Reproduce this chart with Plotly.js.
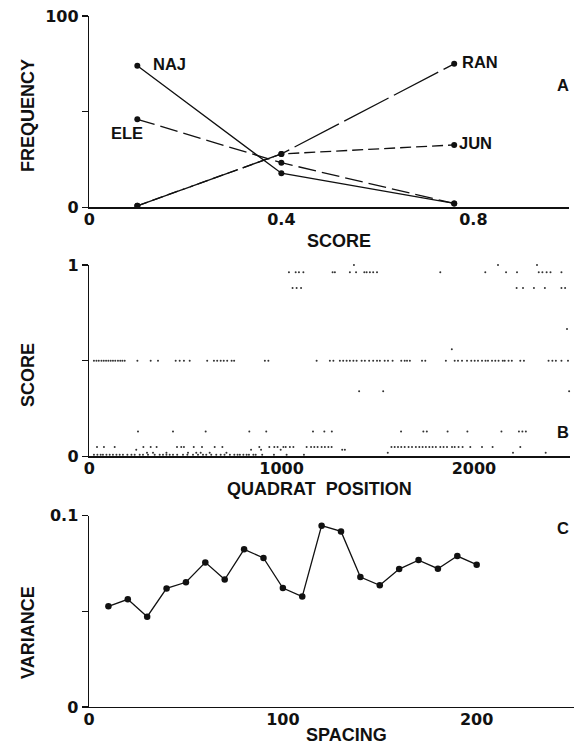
<!DOCTYPE html>
<html>
<head>
<meta charset="utf-8">
<script src="https://cdn.plot.ly/plotly-3.0.1.min.js"></script>
<style>html,body{margin:0;padding:0;background:#fff;}#chart{width:574px;height:746px;}</style>
</head>
<body>
<div id="chart"></div>
<script>
// ---- Panel A: frequency vs score ----
const scoreX = [0.1, 0.4, 0.76];
const freqNAJ = [74, 17.8, 2];
const freqELE = [46, 23.3, 2];
const freqRAN = [0.8, 27.9, 75];
const freqJUN = [0.8, 27.9, 32.6];
const seriesNames = ['NAJ', 'ELE', 'RAN', 'JUN'];

// ---- Panel B: score vs quadrat position (grouped by score level) ----
const posScore100 = [1376, 2125, 2328];
const posScore096 = [1038, 1073, 1090, 1113, 1265, 1277, 1355, 1387, 1430, 1442, 1459, 1476, 1496, 1825, 2059, 2167, 2224, 2337, 2356, 2378, 2398, 2455];
const posScore088 = [1057, 1078, 1101, 2222, 2255, 2312, 2369, 2455, 2474];
const posScore067 = [2484];
const posScore056 = [1885];
const posScore050 = [24, 37, 49, 63, 75, 87, 99, 111, 123, 135, 149, 161, 172, 184, 250, 319, 357, 449, 470, 492, 522, 613, 648, 665, 683, 699, 717, 740, 753, 913, 931, 1182, 1251, 1269, 1303, 1320, 1338, 1355, 1373, 1390, 1416, 1433, 1455, 1476, 1496, 1511, 1536, 1553, 1577, 1622, 1640, 1652, 1667, 1730, 1747, 1854, 1900, 1917, 1938, 1964, 1986, 2004, 2021, 2042, 2060, 2073, 2094, 2111, 2128, 2150, 2160, 2180, 2197, 2241, 2260, 2388, 2408, 2426, 2455, 2489];
const posScore034 = [1403, 1528, 2495];
const posScore013 = [253, 435, 605, 832, 920, 1163, 1222, 1261, 1621, 1737, 1755, 1863, 1966, 2143, 2234, 2252, 2270];
const posScore005 = [40, 76, 132, 281, 319, 350, 456, 478, 492, 543, 586, 652, 692, 884, 936, 962, 979, 1009, 1021, 1043, 1061, 1130, 1153, 1170, 1187, 1208, 1225, 1243, 1260, 1571, 1588, 1605, 1622, 1640, 1660, 1678, 1698, 1716, 1733, 1750, 1768, 1785, 1802, 1825, 1842, 1860, 1886, 1900, 1920, 1941, 1981, 2042, 2097, 2241];
const posScore0035 = [244, 841, 893, 995, 1315, 1329];
const posScore002 = [300, 331, 401, 513, 556, 579, 626, 713, 1552, 2203, 2373];
const posScore001 = [24, 42, 59, 71, 89, 106, 123, 141, 158, 175, 198, 219, 236, 262, 279, 305, 340, 366, 383, 401, 418, 435, 457, 487, 510, 539, 565, 591, 608, 634, 660, 683, 703, 731, 754, 771, 783, 801, 818, 830, 853, 865, 899, 960, 1026, 1116];
const scoreLevels = [1.0, 0.962, 0.88, 0.666, 0.56, 0.5, 0.34, 0.13, 0.05, 0.035, 0.02, 0.009];

// ---- Panel C: variance vs spacing ----
const spacing = [10, 20, 30, 40, 50, 60, 70, 80, 90, 100, 110, 120, 130, 140, 150, 160, 170, 180, 190, 200];
const variance = [0.0526, 0.0563, 0.0472, 0.0620, 0.0652, 0.0756, 0.0666, 0.0824, 0.0779, 0.0622, 0.0577, 0.0948, 0.0918, 0.0679, 0.0636, 0.0721, 0.0768, 0.0723, 0.0789, 0.0744];

// ---- Tick labels / titles ----
const xTicksA = [0, 0.4, 0.8], xTickTextA = ['0', '0.4', '0.8'];
const yTicksA = [0, 50, 100], yTickTextA = ['0', '', '100'];
const xTicksB = [0, 1000, 2000], xTickTextB = ['0', '1000', '2000'];
const yTicksB = [0, 0.5, 1], yTickTextB = ['0', '', '1'];
const xTicksC = [0, 100, 200], xTickTextC = ['0', '100', '200'];
const yTicksC = [0, 0.05, 0.1], yTickTextC = ['0', '', '0.1'];

const INK = '#111';
const W = 574, H = 746;
const px = v => v / W;
const py = v => 1 - v / H;

const lineW = 1.3;
const dashes = ['solid', '18px,6px', '50px,6px', '11px,5px'];
const freqSeries = [freqNAJ, freqELE, freqRAN, freqJUN];

const traces = [];
freqSeries.forEach((ys, i) => {
  traces.push({
    x: scoreX, y: ys, xaxis: 'x', yaxis: 'y', type: 'scatter', mode: 'lines+markers',
    name: seriesNames[i], cliponaxis: false,
    line: {color: INK, width: lineW, dash: dashes[i]},
    marker: {color: INK, size: 6}
  });
});

const bGroups = [posScore100, posScore096, posScore088, posScore067, posScore056, posScore050, posScore034, posScore013, posScore005, posScore0035, posScore002, posScore001];
const bx = [], by = [];
bGroups.forEach((g, i) => g.forEach(p => { bx.push(p); by.push(scoreLevels[i]); }));
traces.push({
  x: bx, y: by, xaxis: 'x2', yaxis: 'y2', type: 'scatter', mode: 'markers', cliponaxis: false,
  marker: {color: '#333', size: 2}
});

traces.push({
  x: spacing, y: variance, xaxis: 'x3', yaxis: 'y3', type: 'scatter', mode: 'lines+markers', cliponaxis: false,
  line: {color: INK, width: lineW},
  marker: {color: INK, size: 6.5}
});

const tickFont = {family: 'DejaVu Sans', size: 16, color: INK, weight: 'bold'};
const xCommon = {showgrid: false, zeroline: false, showline: true, linecolor: INK, linewidth: 1.5,
  ticks: '', ticklabelstandoff: -3, tickfont: tickFont, fixedrange: true, tickmode: 'array'};
const yCommon = {showgrid: false, zeroline: false, showline: true, linecolor: INK, linewidth: 1.5,
  ticks: 'outside', ticklen: 6, tickwidth: 1.3, tickcolor: INK, tickfont: tickFont, fixedrange: true, tickmode: 'array'};

const titleFont = {family: 'Liberation Sans', size: 18, color: INK, weight: 'bold'};
const labelFont = {family: 'Liberation Sans', size: 16.5, color: INK, weight: 'bold'};

const annotations = [
  // axis titles
  {text: 'FREQUENCY', xref: 'paper', yref: 'paper', x: px(28), y: py(116), textangle: -90, font: titleFont, showarrow: false, xanchor: 'center', yanchor: 'middle'},
  {text: 'SCORE', xref: 'paper', yref: 'paper', x: px(339), y: py(241), font: titleFont, showarrow: false, xanchor: 'center', yanchor: 'middle'},
  {text: 'SCORE', xref: 'paper', yref: 'paper', x: px(28), y: py(375), textangle: -90, font: titleFont, showarrow: false, xanchor: 'center', yanchor: 'middle'},
  {text: 'QUADRAT  POSITION', xref: 'paper', yref: 'paper', x: px(319), y: py(489), font: titleFont, showarrow: false, xanchor: 'center', yanchor: 'middle'},
  {text: 'VARIANCE', xref: 'paper', yref: 'paper', x: px(28), y: py(633), textangle: -90, font: titleFont, showarrow: false, xanchor: 'center', yanchor: 'middle'},
  {text: 'SPACING', xref: 'paper', yref: 'paper', x: px(346), y: py(746), font: titleFont, showarrow: false, xanchor: 'center', yanchor: 'bottom', borderpad: 0},
  // panel letters
  {text: 'A', xref: 'paper', yref: 'paper', x: px(562.5), y: py(85), font: labelFont, showarrow: false, xanchor: 'center', yanchor: 'middle'},
  {text: 'B', xref: 'paper', yref: 'paper', x: px(562.7), y: py(432), font: labelFont, showarrow: false, xanchor: 'center', yanchor: 'middle'},
  {text: 'C', xref: 'paper', yref: 'paper', x: px(563), y: py(528), font: labelFont, showarrow: false, xanchor: 'center', yanchor: 'middle'},
  // series labels
  {text: seriesNames[0], xref: 'x', yref: 'y', x: scoreX[0], y: freqNAJ[0], xanchor: 'left', yanchor: 'middle', xshift: 14, yshift: 2, font: labelFont, showarrow: false},
  {text: seriesNames[1], xref: 'x', yref: 'y', x: scoreX[0], y: freqELE[0], xanchor: 'right', yanchor: 'middle', xshift: 8, yshift: -14, font: labelFont, showarrow: false},
  {text: seriesNames[2], xref: 'x', yref: 'y', x: scoreX[2], y: freqRAN[2], xanchor: 'left', yanchor: 'middle', xshift: 6, yshift: 2, font: labelFont, showarrow: false},
  {text: seriesNames[3], xref: 'x', yref: 'y', x: scoreX[2], y: freqJUN[2], xanchor: 'left', yanchor: 'middle', xshift: 3, yshift: 1.5, font: labelFont, showarrow: false}
];

const layout = {
  width: W, height: H, margin: {l: 0, r: 0, t: 0, b: 0},
  paper_bgcolor: '#fff', plot_bgcolor: '#fff', showlegend: false,
  xaxis: Object.assign({}, xCommon, {domain: [0.1556, 0.9920], range: [0, 1], anchor: 'y', tickvals: xTicksA, ticktext: xTickTextA}),
  yaxis: Object.assign({}, yCommon, {domain: [0.7221, 0.9786], range: [0, 100], anchor: 'x', tickvals: yTicksA, ticktext: yTickTextA}),
  xaxis2: Object.assign({}, xCommon, {domain: [0.1556, 0.9932], range: [0, 2500], anchor: 'y2', tickvals: xTicksB, ticktext: xTickTextB}),
  yaxis2: Object.assign({}, yCommon, {domain: [0.3881, 0.6448], range: [0, 1], anchor: 'x2', tickvals: yTicksB, ticktext: yTickTextB}),
  xaxis3: Object.assign({}, xCommon, {domain: [0.1551, 0.9993], range: [0, 250], anchor: 'y3', tickvals: xTicksC, ticktext: xTickTextC}),
  yaxis3: Object.assign({}, yCommon, {domain: [0.0523, 0.3087], range: [0, 0.1], anchor: 'x3', tickvals: yTicksC, ticktext: yTickTextC}),
  annotations: annotations
};

Plotly.newPlot('chart', traces, layout, {staticPlot: true, displayModeBar: false});
</script>
</body>
</html>
